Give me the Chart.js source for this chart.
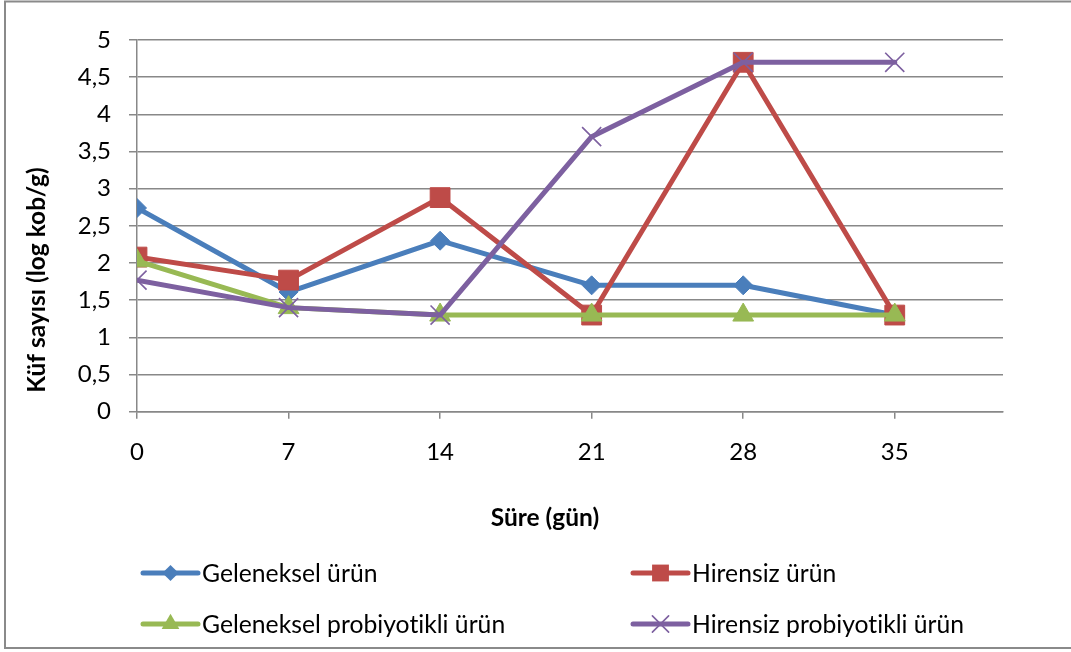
<!DOCTYPE html>
<html lang="tr">
<head>
<meta charset="utf-8">
<title>Küf sayısı</title>
<script src="https://cdn.jsdelivr.net/npm/chart.js@4.4.1/dist/chart.umd.min.js"></script>
<style>
  html, body { margin: 0; padding: 0; background: #ffffff; }
  canvas { display: block; }
</style>
</head>
<body>
<canvas id="chart" width="1071" height="652"></canvas>
<script>
// Storage days and mould counts (log kob/g) for each product
const days = [0, 7, 14, 21, 28, 35];
const dayTicks = [0, 7, 14, 21, 28, 35];
const geleneksel = [2.74, 1.61, 2.30, 1.70, 1.70, 1.30];
const hirensiz = [2.08, 1.77, 2.88, 1.30, 4.70, 1.30];
const gelenekselProbiyotikli = [2.03, 1.40, 1.30, 1.30, 1.30, 1.30];
const hirensizProbiyotikli = [1.77, 1.40, 1.30, 3.70, 4.70, 4.70];
const seriesNames = ['Geleneksel ürün', 'Hirensiz ürün', 'Geleneksel probiyotikli ürün', 'Hirensiz probiyotikli ürün'];

const FONT = 'Lato, "Open Sans", sans-serif';
const gridColor = '#888888';

function toPoints(values) {
  return days.map((d, i) => ({ x: d, y: values[i] }));
}

const styles = [
  { color: '#4A7EBB', pointStyle: 'rectRot', radius: 9.5, pbw: 1, order: 4 },
  { color: '#BE4B48', pointStyle: 'rect', radius: 14, pbw: 1, order: 3 },
  { color: '#98B954', pointStyle: 'triangle', radius: 12, pbw: 1, order: 2 },
  { color: '#7D60A0', pointStyle: 'crossRot', radius: 13.5, pbw: 1.6, order: 1 }
];
const seriesValues = [geleneksel, hirensiz, gelenekselProbiyotikli, hirensizProbiyotikli];

const datasets = seriesValues.map((vals, i) => ({
  label: seriesNames[i],
  data: toPoints(vals),
  borderColor: styles[i].color,
  backgroundColor: styles[i].color,
  pointBackgroundColor: styles[i].color,
  pointBorderColor: styles[i].color,
  pointBorderWidth: styles[i].pbw,
  pointStyle: styles[i].pointStyle,
  pointRadius: styles[i].radius,
  borderWidth: 5,
  borderJoinStyle: 'round',
  borderCapStyle: 'round',
  tension: 0,
  order: styles[i].order,
  showLine: true
}));

// Draws a legend marker with the same shape as the series points
function drawMarker(ctx, style, x, y, r, color, bw) {
  ctx.save();
  ctx.fillStyle = color;
  ctx.strokeStyle = color;
  ctx.lineWidth = bw;
  ctx.beginPath();
  if (style === 'rectRot') {
    ctx.moveTo(x - r, y); ctx.lineTo(x, y - r); ctx.lineTo(x + r, y); ctx.lineTo(x, y + r);
    ctx.closePath(); ctx.fill();
  } else if (style === 'rect') {
    const s = Math.SQRT1_2 * r;
    ctx.rect(x - s, y - s, 2 * s, 2 * s); ctx.fill();
  } else if (style === 'triangle') {
    let a = 0;
    ctx.moveTo(x + Math.sin(a) * r, y - Math.cos(a) * r);
    a += 2 * Math.PI / 3;
    ctx.lineTo(x + Math.sin(a) * r, y - Math.cos(a) * r);
    a += 2 * Math.PI / 3;
    ctx.lineTo(x + Math.sin(a) * r, y - Math.cos(a) * r);
    ctx.closePath(); ctx.fill();
  } else if (style === 'crossRot') {
    const o = Math.SQRT1_2 * r;
    ctx.moveTo(x - o, y - o); ctx.lineTo(x + o, y + o);
    ctx.moveTo(x - o, y + o); ctx.lineTo(x + o, y - o);
    ctx.stroke();
  }
  ctx.restore();
}

const decorations = {
  id: 'decorations',
  beforeDraw(chart) {
    const ctx = chart.ctx;
    ctx.save();
    ctx.fillStyle = '#ffffff';
    ctx.fillRect(0, 0, chart.width, chart.height);
    ctx.restore();
  },
  afterDraw(chart) {
    const ctx = chart.ctx;
    ctx.save();
    // outer frame
    ctx.strokeStyle = '#8a8a8a';
    ctx.lineWidth = 2;
    ctx.beginPath();
    ctx.moveTo(1071, 1.5);
    ctx.lineTo(5, 1.5);
    ctx.lineTo(5, 648);
    ctx.lineTo(1071, 648);
    ctx.stroke();

    // axis titles
    ctx.fillStyle = '#000000';
    ctx.font = 'bold 24.5px ' + FONT;
    ctx.textAlign = 'center';
    ctx.textBaseline = 'middle';
    ctx.fillText('Süre (gün)', 545, 518);
    ctx.save();
    ctx.translate(37, 280);
    ctx.rotate(-Math.PI / 2);
    ctx.fillText('Küf sayısı (log kob/g)', 0, 0);
    ctx.restore();

    // legend, two columns
    const cols = [143, 633];
    const rows = [573, 624];
    ctx.font = '24.7px ' + FONT;
    ctx.textAlign = 'left';
    // a tiny letter spacing keeps "ti" from being joined into a ligature
    if ('letterSpacing' in ctx) ctx.letterSpacing = '0.01px';
    chart.data.datasets.forEach((ds, i) => {
      const x0 = cols[i % 2];
      const y0 = rows[Math.floor(i / 2)];
      const st = styles[i];
      ctx.strokeStyle = st.color;
      ctx.lineWidth = 5;
      ctx.lineCap = 'round';
      ctx.beginPath();
      ctx.moveTo(x0, y0);
      ctx.lineTo(x0 + 55, y0);
      ctx.stroke();
      drawMarker(ctx, st.pointStyle, x0 + 27.5, y0, st.radius * 0.85, st.color, st.pbw);
      ctx.fillStyle = '#000000';
      ctx.fillText(ds.label, x0 + 59, y0 + 1);
    });
    ctx.restore();
  }
};

new Chart(document.getElementById('chart'), {
  type: 'scatter',
  data: { datasets },
  options: {
    responsive: false,
    animation: false,
    events: [],
    devicePixelRatio: 1,
    layout: { padding: { left: 6, top: 40, right: 68, bottom: 120.3 } },
    plugins: {
      legend: { display: false },
      tooltip: { enabled: false }
    },
    scales: {
      x: {
        type: 'linear',
        min: 0,
        max: 40,
        afterBuildTicks: (s) => { s.ticks = dayTicks.map(v => ({ value: v })); },
        afterFit: (s) => { s.height = 120; },
        grid: { drawOnChartArea: false, drawTicks: true, tickLength: 7, color: gridColor, lineWidth: 1.5 },
        border: { display: true, color: gridColor, width: 1.5 },
        ticks: { color: '#000000', font: { family: FONT, size: 24 }, padding: 19, maxRotation: 0, autoSkip: false }
      },
      y: {
        min: 0,
        max: 5,
        afterFit: (s) => { s.width = 131; },
        grid: { color: gridColor, lineWidth: 1.5, tickLength: 8 },
        border: { display: true, color: gridColor, width: 1.5 },
        ticks: {
          stepSize: 0.5,
          color: '#000000',
          font: { family: FONT, size: 24 },
          padding: 18,
          callback: (v) => String(v).replace('.', ',')
        }
      }
    }
  },
  plugins: [decorations]
});
</script>
</body>
</html>
